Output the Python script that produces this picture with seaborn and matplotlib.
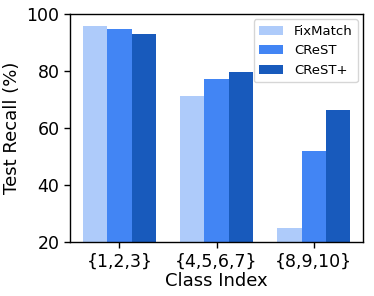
import pandas as pd
import seaborn as sns
import matplotlib
matplotlib.use("Agg")
import matplotlib.pyplot as plt

# class groups and recall per method
groups = ["{1,2,3}", "{4,5,6,7}", "{8,9,10}"]
methods = ["FixMatch", "CReST", "CReST+"]
fixmatch = [96.0, 71.4, 25.0]
crest = [94.8, 77.3, 51.9]
crest_plus = [93.0, 79.6, 66.4]
colors = ["#aecbfa", "#4285f4", "#185abc"]

df = pd.DataFrame({
    "group": groups * 3,
    "method": [m for m in methods for _ in groups],
    "recall": fixmatch + crest + crest_plus,
})

sns.set_style("ticks", {"text.color": "black", "axes.labelcolor": "black",
                        "xtick.color": "black", "ytick.color": "black",
                        "axes.edgecolor": "black"})
plt.rcParams["font.family"] = ["DejaVu Sans"]

fig = plt.figure(figsize=(3.74, 2.96), dpi=100)
ax = fig.add_axes([0.187, 0.182, 0.784, 0.770])
sns.barplot(data=df, x="group", y="recall", hue="method", hue_order=methods,
            palette=colors, saturation=1, width=0.75, linewidth=0, ax=ax)
ax.set_ylim(20, 100)
ax.set_xlim(-0.51, 2.51)
ax.set_yticks([20, 40, 60, 80, 100])
ax.tick_params(labelsize=12.5, length=4, width=1)
ax.set_xlabel("Class Index", fontsize=13, labelpad=1)
ax.set_ylabel("Test Recall (%)", fontsize=13, labelpad=4)
for s in ax.spines.values():
    s.set_linewidth(1)
ax.legend(loc="upper right", fontsize=9.5, frameon=True, handlelength=1.85,
          borderaxespad=0.4)
fig.savefig("out.png", dpi=100)
